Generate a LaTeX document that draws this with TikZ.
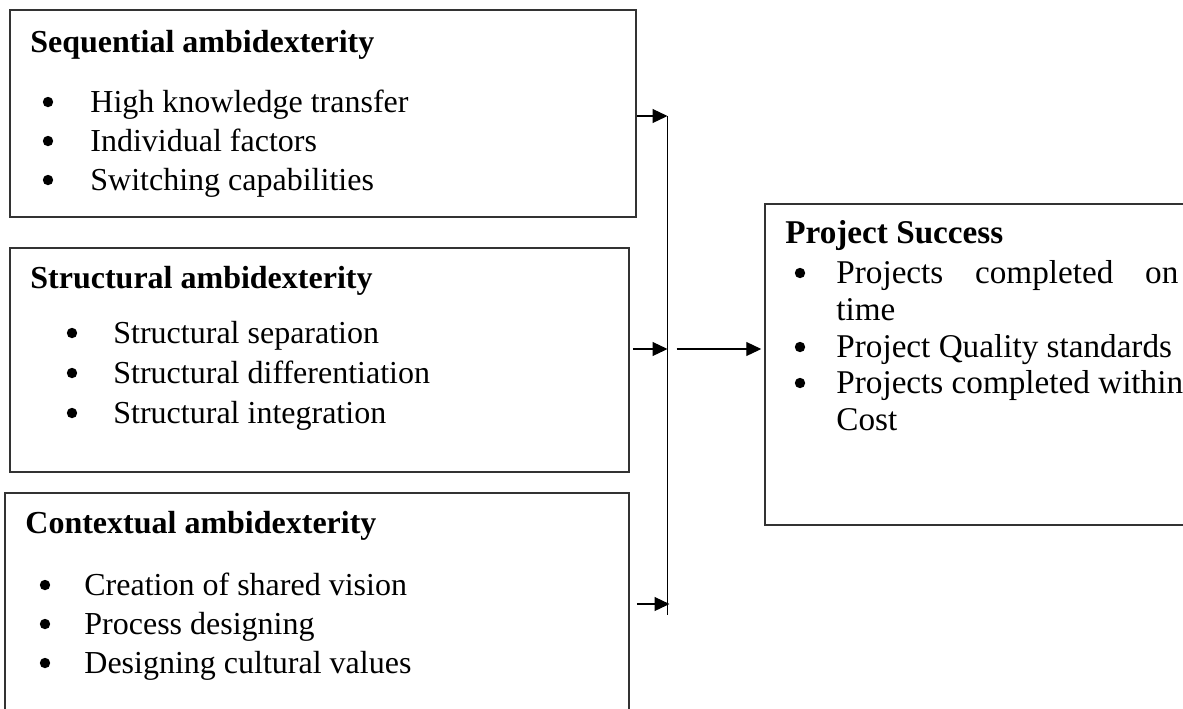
\documentclass[tikz,border=0pt]{standalone}
\usepackage{fontspec}
\setmainfont{Liberation Serif}
\usetikzlibrary{arrows.meta,fit}
\begin{document}
\begin{tikzpicture}[x=0.5pt,y=-0.5pt,
  box/.style={draw=black!80, line width=0.75pt, inner sep=0pt, fit={#1}},
  ttl/.style={anchor=base west, inner sep=0pt, font=\fontsize{16pt}{19pt}\selectfont\bfseries},
  itm/.style={anchor=base west, inner sep=0pt, font=\fontsize{16pt}{19pt}\selectfont},
  dot/.style={circle, fill=black, inner sep=0pt, minimum size=5.2pt},
  ritm/.style={itm, font=\fontsize{16.6pt}{19pt}\selectfont},
  conn/.style={draw=black, line width=0.6pt},
  arr/.style={conn, -{Triangle[length=7.5pt,width=7pt]}}
]
\useasboundingbox (0,0) rectangle (1183,708);
\clip (0,0) rectangle (1183,708);

% the three ambidexterity boxes
\node[box={(10,10) (636,217)}] (seq) {};
\node[box={(10,248) (629,472)}] (str) {};
\node[box={(5,493) (629,730)}] (ctx) {};
% outcome box
\node[box={(765,204) (1200,525)}] (ps) {};

% sequential ambidexterity
\node[ttl] (seqT) at (30,52) {Sequential ambidexterity};
\foreach \t [count=\i] in {High knowledge transfer, Individual factors, Switching capabilities}{
  \pgfmathsetmacro\yy{112+39*(\i-1)}
  \node[dot] (seqD\i) at (48,\yy-10) {};
  \node[itm] (seqI\i) at (90,\yy) {\t};
}

% structural ambidexterity
\node[ttl] (strT) at (30,288) {Structural ambidexterity};
\foreach \t [count=\i] in {Structural separation, Structural differentiation, Structural integration}{
  \pgfmathsetmacro\yy{343+40*(\i-1)}
  \node[dot] (strD\i) at (72,\yy-10) {};
  \node[itm] (strI\i) at (113,\yy) {\t};
}

% contextual ambidexterity
\node[ttl] (ctxT) at (25,533) {Contextual ambidexterity};
\foreach \t [count=\i] in {Creation of shared vision, Process designing, Designing cultural values}{
  \pgfmathsetmacro\yy{595+39*(\i-1)}
  \node[dot] (ctxD\i) at (45,\yy-10) {};
  \node[itm] (ctxI\i) at (84,\yy) {\t};
}

% project success
\node[ttl, font=\fontsize{16.6pt}{19pt}\selectfont\bfseries] (psT) at (785,243) {Project Success};
\node[dot] (psD1) at (800,273) {};
\node[ritm] (psI1) at (836,283) {\makebox[171pt][s]{Projects completed on}};
\node[ritm] (psI1b) at (836,320) {time};
\node[dot] (psD2) at (800,347) {};
\node[ritm] (psI2) at (836,357) {Project Quality standards};
\node[dot] (psD3) at (800,383) {};
\node[ritm] (psI3) at (836,393) {Projects completed within};
\node[ritm] (psI3b) at (836,430) {Cost};

% collecting line and arrows
\coordinate (bus1) at (667.5,116);
\coordinate (bus2) at (667.5,349);
\coordinate (bus3) at (667.5,604);
\coordinate (busEnd) at (667.5,615);
\draw[conn] (bus1) -- (busEnd);
\draw[arr] (seq.east |- bus1) -- (bus1);
\draw[arr] ([xshift=1.5pt]str.east |- bus2) -- (bus2);
\draw[arr] ([xshift=3.5pt]ctx.east |- bus3) -- ([xshift=1pt]bus3);
\draw[arr, shorten >=1.5pt] ([xshift=4.5pt]bus2) -- (ps.west |- bus2);
\end{tikzpicture}
\end{document}
